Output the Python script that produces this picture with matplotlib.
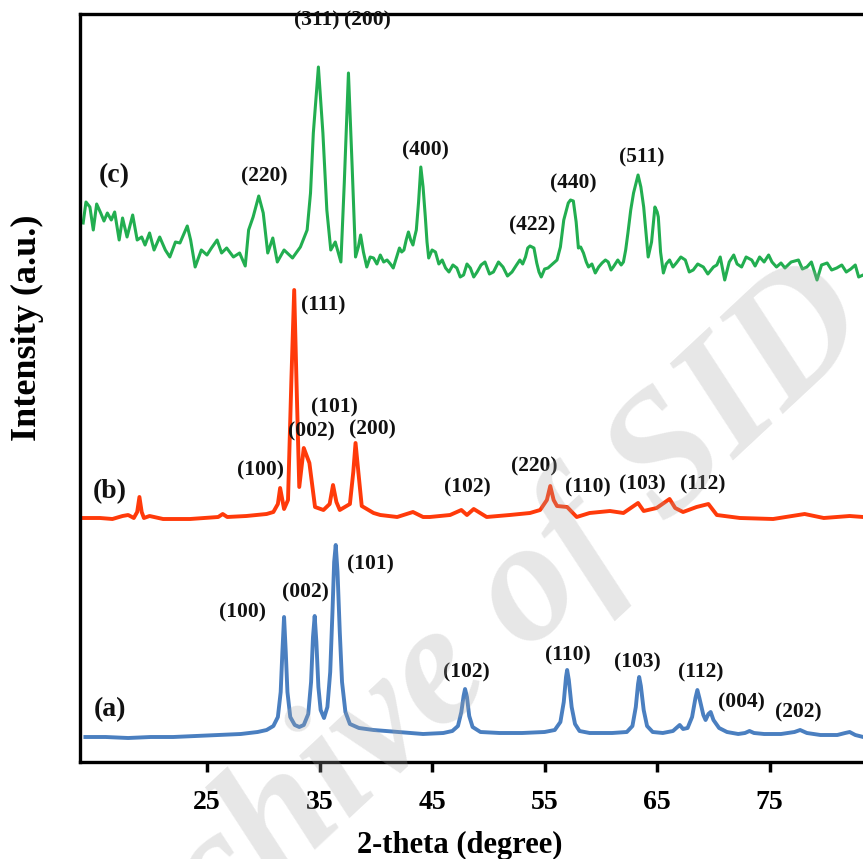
import matplotlib
matplotlib.use("Agg")
import matplotlib.pyplot as plt

# ---------------- data (2-theta in degrees, intensity in a.u.) ----------------
theta_a = [14.2, 16, 18, 20, 22, 24, 26, 28, 29.5, 30.3, 30.9, 31.3, 31.55, 31.7, 31.85,
           32.0, 32.15, 32.4, 32.8, 33.2, 33.6, 34.0, 34.25, 34.42, 34.57, 34.72, 34.9,
           35.1, 35.4, 35.7, 35.95, 36.15, 36.3, 36.44, 36.6, 36.8, 37.0, 37.3, 37.7,
           38.5, 39.8, 42, 44.2, 46, 46.8, 47.3, 47.6, 47.8, 47.93, 48.1, 48.3, 48.6,
           49.3, 51, 53, 55, 55.9, 56.4, 56.7, 56.9, 57.0, 57.15, 57.4, 57.7, 58.1, 59,
           61, 62.3, 62.8, 63.1, 63.3, 63.4, 63.55, 63.8, 64.1, 64.6, 65.5, 66.4, 66.8,
           67.0, 67.3, 67.7, 68.1, 68.4, 68.57, 68.75, 69.1, 69.3, 69.55, 69.75, 70.0,
           70.5, 71.2, 72.2, 72.8, 73.2, 73.6, 74.5, 76, 77.2, 77.7, 78.3, 79.5, 81.0,
           81.7, 82.1, 82.6, 83.3]
int_a = [25, 25, 24, 25, 25, 26, 27, 28, 30, 32, 36, 45, 70, 110, 145,
         110, 70, 45, 37, 35, 37, 48, 80, 125, 146, 120, 75,
         52, 44, 55, 90, 150, 200, 217, 190, 130, 80, 50, 38,
         34, 32, 30, 28, 29, 31, 36, 50, 66, 73, 65, 46, 35,
         30, 29, 29, 30, 32, 40, 60, 85, 92, 82, 55, 38, 31, 29,
         29, 30, 36, 55, 78, 85, 76, 52, 36, 30, 29, 31, 35,
         37, 33, 34, 45, 64, 72, 64, 47, 42, 48, 50, 42,
         34, 30, 28, 29, 31, 29, 28, 28, 30, 32, 29, 27, 27,
         29, 30, 27, 25]

theta_b = [14.0, 15.5, 16.6, 17.5, 18.0, 18.5, 18.8, 19.0, 19.2, 19.4, 19.9, 21.1, 23.5,
           26.0, 26.4, 26.8, 28.5, 30.3, 30.9, 31.3, 31.5, 31.7, 31.85, 32.2, 32.5,
           32.75, 32.95, 33.2, 33.6, 34.1, 34.6, 35.35, 35.9, 36.2, 36.5, 36.8, 37.7,
           38.0, 38.2, 38.45, 38.75, 39.8, 40.4, 41.9, 43.3, 44.2, 44.8, 46.6, 47.6,
           48.1, 48.7, 49.85, 51.9, 53.7, 54.6, 55.2, 55.5, 55.8, 56.1, 57.0, 57.85,
           59.0, 60.8, 62.0, 63.3, 63.8, 64.95, 66.1, 66.6, 67.3, 68.5, 69.55, 70.3,
           72.35, 75.3, 78.1, 79.8, 82.1, 83.3]
int_b = [244, 244, 243, 246, 247, 244, 250, 265, 250, 244, 246, 243, 243,
         245, 248, 245, 246, 248, 250, 258, 274, 262, 253, 262, 382,
         472, 382, 275, 314, 299, 255, 252, 258, 277, 260, 252, 258,
         290, 319, 290, 256, 249, 247, 245, 250, 245, 245, 247, 252,
         247, 253, 245, 247, 249, 252, 262, 276, 262, 256, 255, 245,
         249, 251, 249, 259, 251, 254, 263, 254, 250, 255, 258, 247,
         244, 243, 248, 244, 246, 245]

theta_c = [14.0, 14.25, 14.6, 14.9, 15.2, 15.56, 15.85, 16.15, 16.5, 16.8, 17.2, 17.5,
           17.9, 18.4, 18.8, 19.2, 19.5, 19.9, 20.3, 20.8, 21.3, 21.7, 22.2, 22.6,
           23.25, 23.55, 23.95, 24.5, 25.0, 25.4, 25.9, 26.3, 26.75, 27.35, 27.9, 28.4,
           28.7, 29.1, 29.6, 30.0, 30.4, 30.85, 31.25, 31.85, 32.6, 33.3, 33.9, 34.2,
           34.45, 34.9, 35.3, 35.65, 36.0, 36.4, 36.9, 37.2, 37.57, 37.9,
           38.2, 38.45, 38.65, 38.9, 39.2, 39.5, 39.8, 40.1, 40.4, 40.7, 41.0, 41.3,
           41.55, 41.85, 42.1, 42.3, 42.5, 42.7, 42.9, 43.1, 43.3, 43.45, 43.6, 43.8,
           44.0, 44.2, 44.4, 44.55,
           44.7, 45.0, 45.3, 45.6, 45.9, 46.2, 46.5, 46.85, 47.2, 47.5, 47.8, 48.1,
           48.4, 48.7, 49.0, 49.35, 49.7, 50.1, 50.45, 50.9, 51.3, 51.7, 52.1, 52.5,
           52.8, 53.05, 53.3, 53.5, 53.7, 54.05, 54.3, 54.5, 54.7, 55.0, 55.3, 55.7,
           56.1, 56.4, 56.7, 57.1, 57.3, 57.55, 57.8, 58.0, 58.2, 58.45, 58.7, 58.9,
           59.2, 59.5, 59.8, 60.1, 60.4, 60.65, 60.9, 61.1, 61.5, 61.8, 62.0, 62.2,
           62.4, 62.65, 62.9, 63.3, 63.55, 63.8, 64.0, 64.2, 64.5, 64.8, 65.0, 65.1,
           65.3, 65.55, 65.8, 66.1, 66.4, 66.7, 67.1, 67.5, 67.85, 68.2, 68.6, 69.1,
           69.5, 70.0, 70.3, 70.6, 71.0, 71.4, 71.8, 72.1, 72.5, 72.9, 73.4, 73.7,
           74.1, 74.5, 74.9, 75.2, 75.6, 76.0, 76.35, 76.9, 77.55, 77.9, 78.3, 78.7,
           79.2, 79.6, 80.1, 80.5, 80.95, 81.4, 81.8, 82.2, 82.6, 82.9, 83.3]
int_c = [539, 560, 555, 532, 558, 549, 541, 549, 542, 550, 522, 544,
         525, 547, 522, 525, 517, 529, 512, 525, 512, 505, 520, 519,
         536, 522, 495, 512, 507, 514, 522, 509, 514, 505, 509, 496,
         532, 545, 566, 549, 509, 524, 500, 512, 504, 515, 532, 569,
         629, 695, 629, 552, 512, 520, 500, 579, 689, 595,
         505, 515, 527, 510, 495, 505, 504, 498, 507, 500, 502, 498,
         494, 505, 514, 510, 512, 522, 530, 522, 517, 525, 532, 560,
         595, 575, 545, 520,
         504, 512, 510, 498, 502, 494, 490, 497, 494, 485, 487, 498,
         494, 485, 490, 497, 500, 488, 490, 500, 495, 486, 490, 497,
         502, 498, 505, 514, 516, 514, 499, 490, 485, 493, 494, 498,
         502, 515, 542, 559, 562, 561, 540, 514, 515, 509, 500, 495,
         498, 489, 495, 499, 502, 500, 492, 495, 502, 497, 500, 512,
         529, 552, 569, 587, 575, 555, 530, 505, 520, 555, 550, 545,
         510, 489, 498, 502, 495, 499, 505, 502, 490, 492, 498, 495,
         488, 495, 497, 505, 482, 500, 507, 498, 495, 505, 502, 496,
         505, 500, 507, 500, 495, 499, 494, 500, 502, 493, 495, 500,
         482, 497, 499, 492, 494, 497, 490, 493, 497, 485, 487]

# peak annotations: (label, 2-theta, intensity position)
labels_a = ["(a)", "(100)", "(002)", "(101)", "(102)", "(110)", "(103)", "(112)", "(004)", "(202)"]
lx_a = [16.39, 28.12, 33.71, 39.49, 48.02, 57.08, 63.21, 68.89, 72.45, 77.51]
ly_a = [52, 150, 170, 198, 90, 107, 100, 90, 60, 50]

labels_b = ["(b)", "(100)", "(111)", "(101)", "(002)", "(200)", "(102)", "(220)", "(110)", "(103)", "(112)"]
lx_b = [16.39, 29.80, 35.31, 36.29, 34.25, 39.67, 48.11, 54.06, 58.85, 63.65, 69.07]
ly_b = [270, 292, 457, 355, 331, 333, 275, 296, 275, 278, 278]

labels_c = ["(c)", "(220)", "(311)", "(200)", "(400)", "(422)", "(440)", "(511)"]
lx_c = [16.74, 30.07, 34.78, 39.22, 44.37, 53.85, 57.55, 63.63]
ly_c = [586, 586, 742, 742, 612, 537, 579, 605]

xticks = [25, 35, 45, 55, 65, 75]

# ---------------- figure ----------------
W, H = 863, 859
fig = plt.figure(figsize=(W / 100, H / 100), dpi=100)
ax = fig.add_axes([80 / W, (H - 762) / H, (882.3 - 80) / W, 748 / H])

serif = ["Liberation Serif", "DejaVu Serif"]
col_a = "#4a7fc0"
col_b = "#ff3a0a"
col_c = "#22ae50"

ax.plot(theta_a, int_a, color=col_a, lw=2.8, solid_joinstyle="round")
ax.plot(theta_b, int_b, color=col_b, lw=2.8, solid_joinstyle="round")
ax.plot(theta_c, int_c, color=col_c, lw=2.2, solid_joinstyle="round")

peak_fs = 15.5
sample_fs = 20
for labs, xs, ys in ((labels_a, lx_a, ly_a), (labels_b, lx_b, ly_b), (labels_c, lx_c, ly_c)):
    for t, x, y in zip(labs, xs, ys):
        fs = sample_fs if len(t) == 3 else peak_fs
        ax.text(x, y, t, ha="center", va="center", fontsize=fs, fontweight="bold",
                family=serif, color="#111111")

ax.set_xlim(13.72, 85.0)
ax.set_ylim(0, 748)
ax.set_xticks(xticks)
ax.set_xticklabels([str(v) for v in xticks], fontsize=20, fontweight="bold", family=serif)
ax.set_yticks([])
ax.tick_params(axis="x", direction="out", length=7, width=2.5, pad=13)
for s in ("left", "top", "bottom", "right"):
    ax.spines[s].set_linewidth(2.4)

fig.text(460 / W, 1 - 845 / H, "2-theta (degree)", ha="center", va="center",
         fontsize=22, fontweight="bold", family=serif)
fig.text(27 / W, 1 - 328 / H, "Intensity (a.u.)", ha="center", va="center",
         rotation=90, fontsize=26, fontweight="bold", family=serif)

# watermark
fig.text(455 / W, 1 - 670 / H, "Archive of SID", ha="center", va="center",
         rotation=43, fontsize=125, style="italic", fontweight="bold", family=serif,
         color="#a6a6a6", alpha=0.27, zorder=10)

fig.savefig("out.png", dpi=100)
